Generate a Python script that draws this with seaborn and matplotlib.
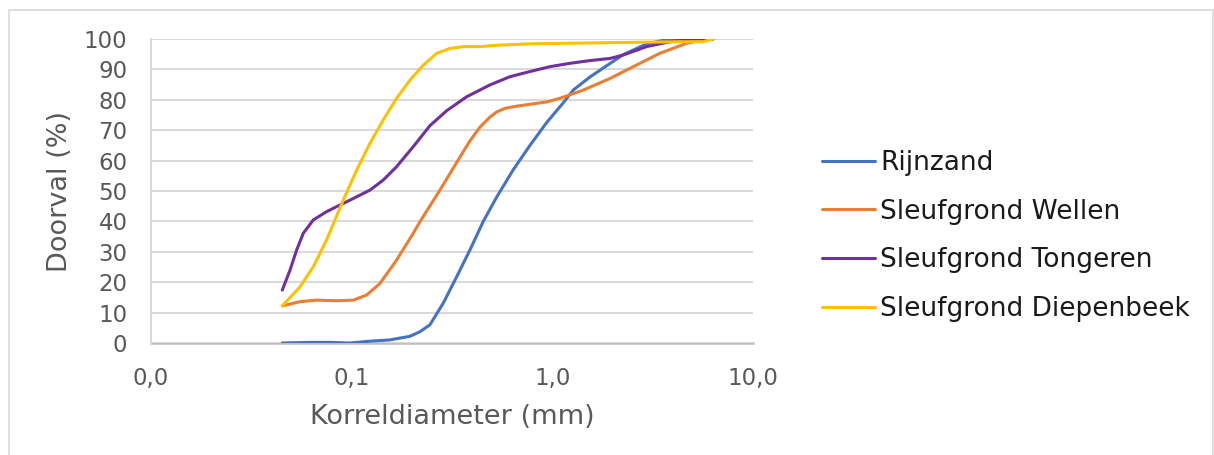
import matplotlib
matplotlib.use("Agg")
import matplotlib.pyplot as plt
from matplotlib.patches import Rectangle
import pandas as pd
import seaborn as sns

# Grain size distribution (sieve curves) of four soils
series_names = ["Rijnzand", "Sleufgrond Wellen", "Sleufgrond Tongeren", "Sleufgrond Diepenbeek"]
series_colors = ["#4472C4", "#ED7D31", "#7030A0", "#FFC000"]

rijnzand_d = [0.0451, 0.0619, 0.078, 0.0981, 0.1234, 0.1546, 0.195, 0.2189, 0.2455, 0.286,
              0.3336, 0.3885, 0.4527, 0.5279, 0.6386, 0.7735, 0.9367, 1.133, 1.271, 1.539,
              1.864, 2.248, 2.951, 3.855, 6.31]
rijnzand_p = [0.0, 0.2, 0.2, 0.0, 0.6, 1.0, 2.2, 3.7, 6.0, 13.1,
              21.8, 30.6, 40.0, 48.0, 57.0, 65.0, 72.5, 79.0, 83.2, 87.5,
              91.2, 94.8, 98.4, 100.0, 100.0]

wellen_d = [0.0451, 0.0553, 0.0669, 0.0842, 0.1019, 0.1188, 0.1384, 0.1675, 0.2028, 0.2189,
            0.2754, 0.338, 0.3885, 0.4358, 0.4888, 0.5279, 0.5806, 0.664, 0.9367, 1.091,
            1.426, 1.936, 2.530, 3.437, 4.669, 5.647, 6.31]
wellen_p = [12.2, 13.6, 14.1, 13.9, 14.1, 15.8, 19.6, 27.3, 36.1, 39.9,
            50.3, 60.0, 66.5, 71.0, 74.3, 76.0, 77.2, 77.9, 79.3, 80.5,
            83.2, 87.0, 90.9, 95.3, 98.6, 99.7, 100.0]

tongeren_d = [0.0451, 0.0493, 0.0532, 0.0574, 0.0644, 0.075, 0.0874, 0.0981, 0.1234, 0.1437,
              0.1675, 0.2028, 0.2455, 0.2974, 0.3741, 0.4888, 0.6147, 0.7735, 0.9727, 1.224,
              1.539, 1.936, 2.248, 2.951, 3.855, 5.018, 6.31]
tongeren_p = [17.4, 24.0, 30.6, 36.1, 40.5, 43.2, 45.4, 47.0, 50.3, 53.6,
              58.0, 64.6, 71.5, 76.4, 81.0, 84.9, 87.6, 89.3, 90.9, 92.0,
              92.9, 93.6, 94.7, 97.5, 99.1, 100.0, 100.0]

diepenbeek_d = [0.0451, 0.0553, 0.0644, 0.075, 0.0908, 0.1059, 0.1234, 0.1437, 0.1675, 0.1952,
                0.2274, 0.2652, 0.3089, 0.3598, 0.4358, 0.5481, 0.7735, 1.224, 1.936, 4.323,
                5.647, 6.31]
diepenbeek_p = [12.2, 18.5, 25.1, 33.9, 47.0, 56.9, 65.7, 73.4, 80.5, 86.5,
                91.4, 95.3, 96.9, 97.5, 97.5, 98.0, 98.4, 98.6, 98.8, 99.1,
                99.1, 100.0]

x_ticks = [0.01, 0.1, 1, 10]
x_tick_labels = ["0,0", "0,1", "1,0", "10,0"]
y_ticks = list(range(0, 101, 10))

frames = []
for name, d, p in [(series_names[0], rijnzand_d, rijnzand_p),
                   (series_names[1], wellen_d, wellen_p),
                   (series_names[2], tongeren_d, tongeren_p),
                   (series_names[3], diepenbeek_d, diepenbeek_p)]:
    frames.append(pd.DataFrame({"d": d, "p": p, "serie": name}))
df = pd.concat(frames, ignore_index=True)

sns.set_theme(style="white")
plt.rcParams["font.family"] = ["DejaVu Sans"]

W, H = 1214, 455
fig = plt.figure(figsize=(W / 100, H / 100), dpi=100)
ax = fig.add_axes([151 / W, 1 - 343 / H, (753 - 151) / W, (343 - 39) / H])

sns.lineplot(data=df, x="d", y="p", hue="serie", hue_order=series_names,
             palette=series_colors, estimator=None, sort=False,
             linewidth=2.2, ax=ax, legend=True)
for line in ax.get_lines():
    line.set_solid_joinstyle("round")

ax.set_xscale("log")
ax.set_xlim(0.01, 10)
ax.set_ylim(0, 100)
ax.set_xticks(x_ticks)
ax.set_xticklabels(x_tick_labels)
ax.xaxis.set_minor_locator(matplotlib.ticker.NullLocator())
ax.set_yticks(y_ticks)

ax.grid(axis="y", color="#D9D9D9", linewidth=1.4)
ax.grid(axis="x", visible=False)
ax.set_axisbelow(True)

for s in ["top", "right"]:
    ax.spines[s].set_visible(False)
ax.spines["left"].set_color("#D9D9D9")
ax.spines["left"].set_linewidth(1.4)
ax.spines["bottom"].set_color("#BFBFBF")
ax.spines["bottom"].set_linewidth(1.8)
ax.spines["bottom"].set_zorder(0.5)

ax.tick_params(axis="both", length=0, labelsize=16.5, labelcolor="#595959", pad=17)

ax.set_xlabel("Korreldiameter (mm)", fontsize=19.5, color="#595959", labelpad=10)
ax.set_ylabel("Doorval (%)", fontsize=19.5, color="#595959", labelpad=8)

handles, labels = ax.get_legend_handles_labels()
ax.get_legend().remove()
for h in handles:
    h.set_linewidth(2.2)
fig.legend(handles, labels, loc="center left", bbox_to_anchor=(822 / W, 1 - 236 / H),
           frameon=False, fontsize=19, handlelength=2.0, handletextpad=0.2,
           labelspacing=0.86, borderpad=0, borderaxespad=0, labelcolor="#1A1A1A")

# light border around the chart area
fig.add_artist(Rectangle((8.5 / W, -0.05), (1212.5 - 8.5) / W, 1.05 - 10.5 / H,
                         transform=fig.transFigure, fill=False,
                         edgecolor="#D9D9D9", linewidth=1.2, clip_on=False))

fig.savefig("out.png", dpi=100)
